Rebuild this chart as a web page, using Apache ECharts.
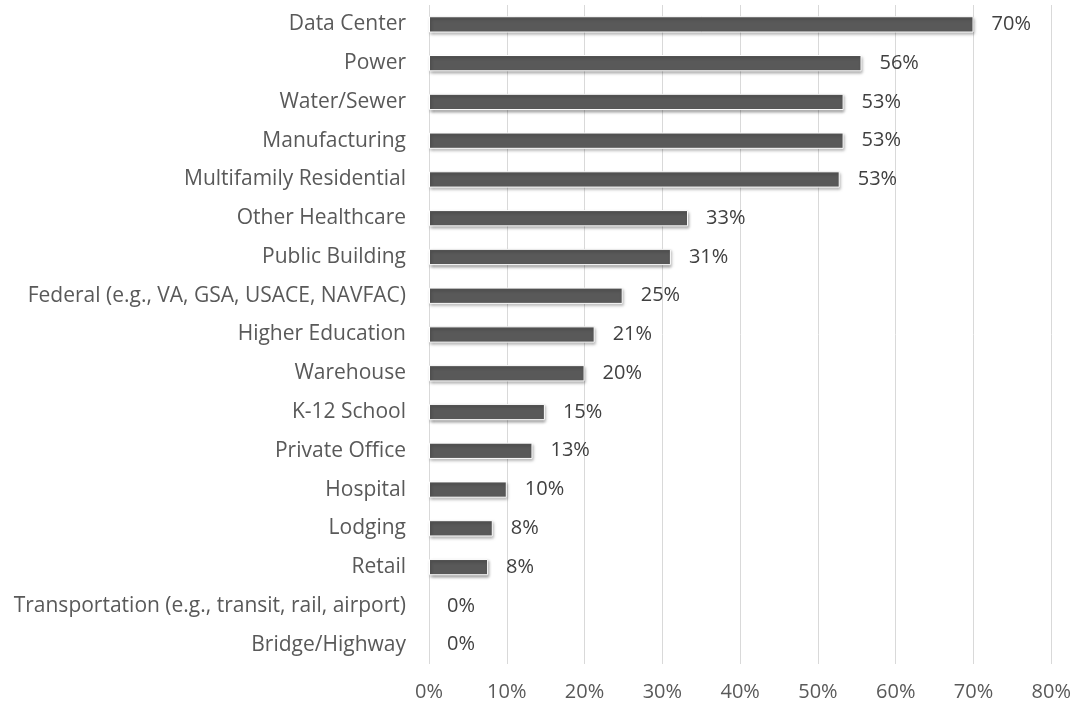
<!DOCTYPE html>
<html>
<head>
<meta charset="utf-8">
<script src="https://cdn.jsdelivr.net/npm/echarts@6/dist/echarts.min.js"></script>
<style>
  html, body { margin: 0; padding: 0; background: #fff; }
  #chart { width: 1074px; height: 705px; }
</style>
</head>
<body>
<div id="chart"></div>
<script>
var categories = ['Data Center', 'Power', 'Water/Sewer', 'Manufacturing', 'Multifamily Residential',
    'Other Healthcare', 'Public Building', 'Federal (e.g., VA, GSA, USACE, NAVFAC)', 'Higher Education',
    'Warehouse', 'K-12 School', 'Private Office', 'Hospital', 'Lodging', 'Retail',
    'Transportation (e.g., transit, rail, airport)', 'Bridge/Highway'];
var shares = [70.0, 55.6, 53.3, 53.3, 52.8, 33.3, 31.1, 24.9, 21.3, 20.0, 14.9, 13.3, 10.0, 8.2, 7.6, 0, 0];
var tickValues = [0, 10, 20, 30, 40, 50, 60, 70, 80];

var myChart = echarts.init(document.getElementById('chart'));

var font = '"Open Sans", "Noto Sans", sans-serif';

// zero bars get no border/shadow so nothing shows at 0%
var barData = shares.map(function (v) {
    if (v === 0) {
        return { value: v, itemStyle: { borderWidth: 0, shadowBlur: 0, shadowOffsetX: 0, shadowOffsetY: 0, opacity: 0 } };
    }
    return v;
});

var option = {
    animation: false,
    textStyle: { fontFamily: font },
    grid: {
        left: 429,
        right: 21,
        top: 5,
        bottom: 41
    },
    xAxis: {
        type: 'value',
        min: tickValues[0],
        max: tickValues[tickValues.length - 1],
        interval: 10,
        axisLine: { show: false },
        axisTick: { show: false },
        splitLine: { lineStyle: { color: '#d9d9d9', width: 1 } },
        axisLabel: {
            formatter: function (v) { return v + '%'; },
            color: '#595959',
            fontSize: 20,
            fontFamily: font,
            margin: 18
        }
    },
    yAxis: {
        type: 'category',
        data: categories,
        inverse: true,
        axisLine: { show: false },
        axisTick: { show: false },
        axisLabel: {
            color: '#595959',
            fontSize: 21,
            fontFamily: font,
            margin: 23
        }
    },
    series: [
        {
            type: 'bar',
            data: barData,
            barCategoryGap: '58%',
            itemStyle: {
                color: '#595959',
                borderColor: '#ffffff',
                borderWidth: 1,
                shadowColor: 'rgba(0,0,0,0.35)',
                shadowBlur: 3,
                shadowOffsetX: 1,
                shadowOffsetY: 2
            },
            label: {
                show: true,
                position: 'right',
                distance: 18,
                color: '#404040',
                fontSize: 20,
                fontFamily: font,
                opacity: 1,
                formatter: function (p) { return Math.round(p.value) + '%'; }
            }
        }
    ]
};

myChart.setOption(option);
</script>
</body>
</html>
